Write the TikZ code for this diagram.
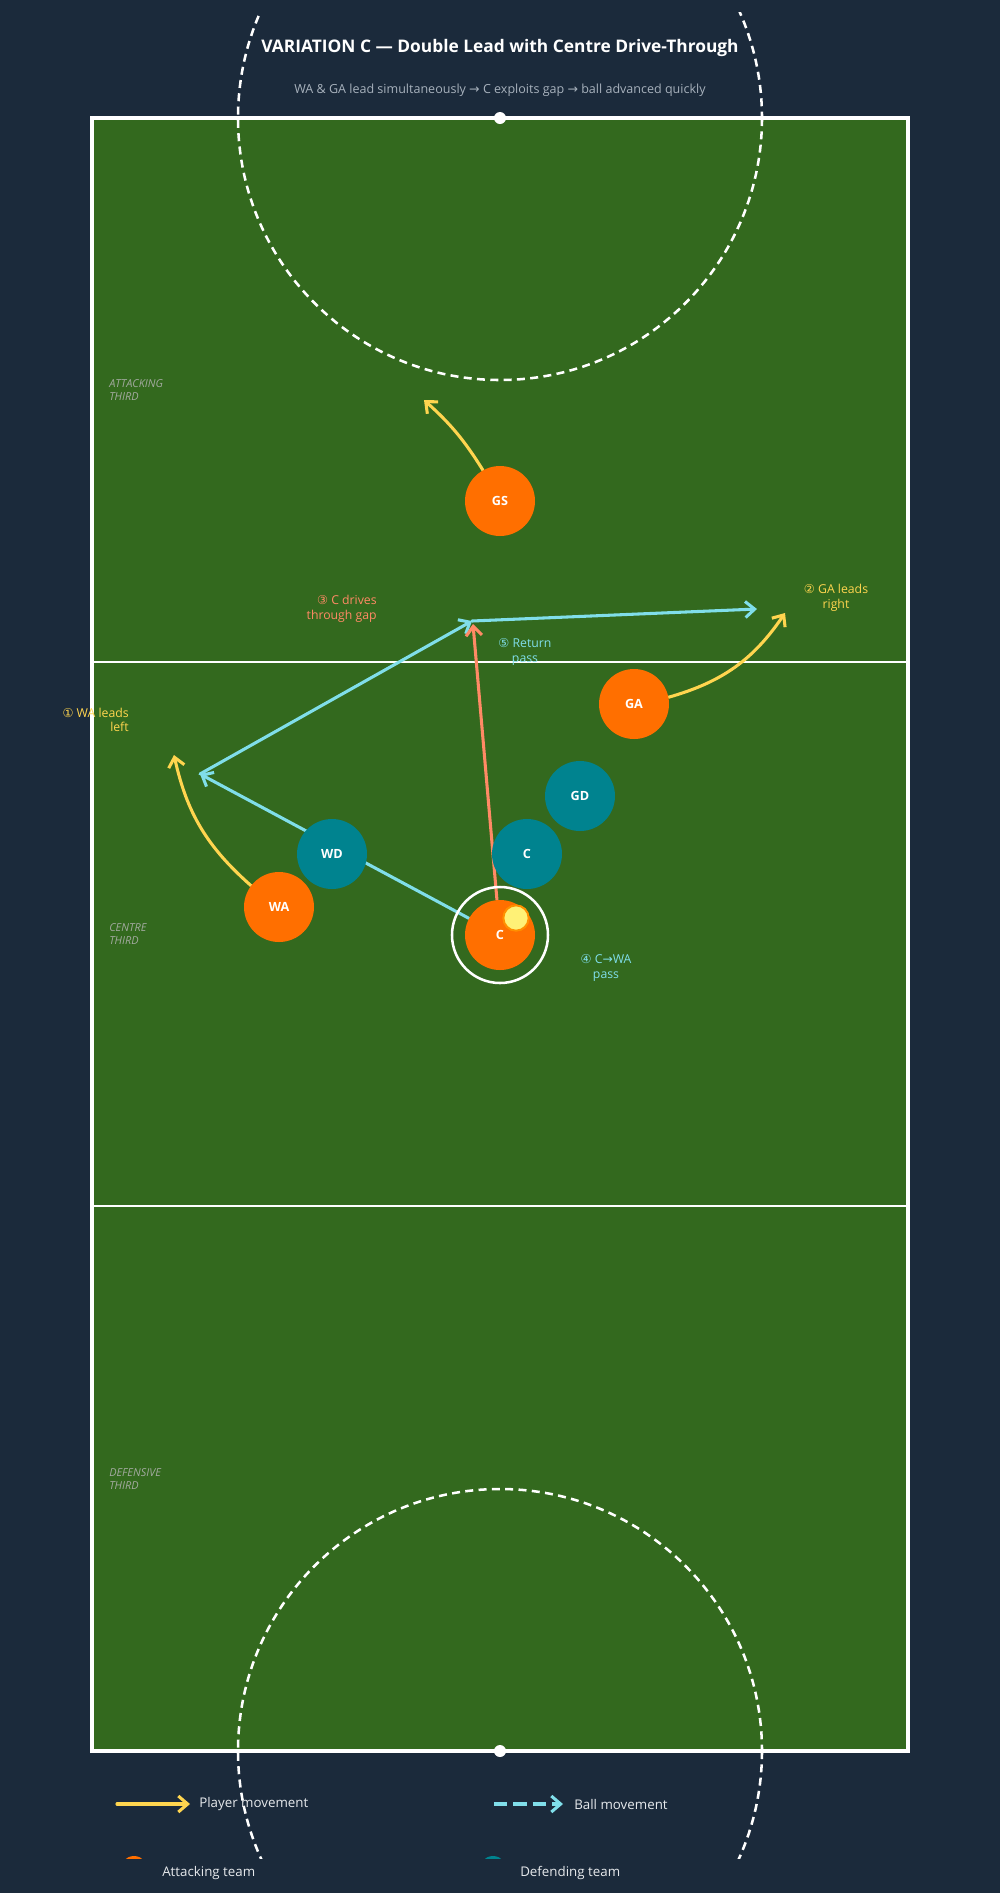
\documentclass[tikz,border=0pt]{standalone}
\usepackage{fontspec}
\setmainfont{Open Sans}
\newfontfamily\symf{DejaVu Sans}
\usetikzlibrary{arrows.meta,calc,positioning}
\usepackage{xcolor}
\definecolor{bgnavy}{HTML}{1B2A3B}
\definecolor{courtgreen}{HTML}{33691E}
\definecolor{attorange}{HTML}{FF6F00}
\definecolor{defteal}{HTML}{00838F}
\definecolor{moveyel}{HTML}{FFD54F}
\definecolor{ballcyan}{HTML}{80DEEA}
\definecolor{drivesal}{HTML}{FF8A65}
\definecolor{ballyel}{HTML}{FFF176}
\definecolor{ballring}{HTML}{FF8F00}
\definecolor{zonegray}{HTML}{A3AAA0}
\definecolor{subgray}{HTML}{A7B1BC}
\definecolor{legwhite}{HTML}{E6E9EC}
\pgfdeclarelayer{top}
\pgfsetlayers{main,top}
\newcommand{\plsize}{52.5pt}
\newcommand{\cn}[1]{{\symf #1}}
\tikzset{
    attsty/.style={circle,fill=attorange,minimum size=\plsize,inner sep=0pt,text=white,font=\bfseries\fontsize{9.5}{11}\selectfont},
    defsty/.style={circle,fill=defteal,minimum size=\plsize,inner sep=0pt,text=white,font=\bfseries\fontsize{9.5}{11}\selectfont},
    ringsty/.style={circle,draw=white,line width=1.9pt,minimum size=72pt,inner sep=0pt},
    ballsty/.style={circle,fill=ballyel,draw=ballring,line width=1.5pt,minimum size=19pt,inner sep=0pt},
    movesty/.style={draw=moveyel,line width=2.3pt,line cap=round,-{Straight Barb[length=7pt,width=12pt]}},
    passsty/.style={draw=ballcyan,line width=2.3pt,line cap=round,-{Straight Barb[length=7pt,width=12pt]}},
    drivesty/.style={draw=drivesal,line width=2.3pt,line cap=round,-{Straight Barb[length=7pt,width=12pt]}},
    circsty/.style={draw=white,line width=1.9pt,dash pattern=on 6pt off 4pt},
    zonesty/.style={font=\itshape\fontsize{8.2}{10}\selectfont,text=zonegray,align=left,anchor=west,inner sep=0pt},
    notesty/.style={font=\fontsize{9.2}{10.9}\selectfont,inner sep=0pt},
    legsty/.style={font=\fontsize{10}{12}\selectfont,text=legwhite,anchor=west,inner sep=0pt},
}

\begin{document}
\begin{tikzpicture}[x=0.75pt,y=-0.75pt]
% page and court
\fill[bgnavy] (0,0) rectangle (1000,1893);
\useasboundingbox (0,0) rectangle (1000,1893);
\fill[courtgreen] (92,118) rectangle (908,1751);
\draw[white,line width=2.2pt] (92,662) -- (908,662);
\draw[white,line width=2.2pt] (92,1206) -- (908,1206);
\draw[white,line width=3pt] (92,118) rectangle (908,1751);
\begin{scope}
\clip (0,12) rectangle (1000,1858);
\draw[circsty] (500,118) circle[radius=262];
\draw[circsty] (500,1751) circle[radius=262];
\fill[attorange] (134,1870) circle[radius=14];
\fill[defteal] (493,1870) circle[radius=14];
\end{scope}
\fill[white] (500,118) circle[radius=6];
\fill[white] (500,1751) circle[radius=6];

% titles
\node[font=\bfseries\fontsize{13}{15}\selectfont,text=white] (title) at (500,48) {VARIATION C — Double Lead with Centre Drive-Through};
\node[font=\fontsize{9.4}{11}\selectfont,text=subgray] (subtitle) at (500,90) {WA \& GA lead simultaneously \cn{→} C exploits gap \cn{→} ball advanced quickly};

% thirds
\node[zonesty] (attz) at (109,390) {ATTACKING\\THIRD};
\node[zonesty] (cenz) at (109,934) {CENTRE\\THIRD};
\node[zonesty] (defz) at (109,1479) {DEFENSIVE\\THIRD};

% players
\begin{pgfonlayer}{top}
\node[attsty] (GS) at (500,501) {GS};
\node[attsty] (GA) at (634,704) {GA};
\node[attsty] (WA) at (279,907) {WA};
\node[defsty] (WD) at (332,854) {WD};
\node[defsty] (Cdef) at (527,854) {C};
\node[defsty] (GD) at (580,796) {GD};
\node[ringsty] (ring) at (500,935) {};
\node[attsty] (Catt) at (500,935) {C};
\node[ballsty] (ball) at (516,918) {};
\end{pgfonlayer}

% movement
\coordinate (gsrun) at (424,400);
\coordinate (garun) at (785,613);
\coordinate (warun) at (174,755);
\coordinate (wapos) at (200,774);
\coordinate (cgap) at (472,621);
\coordinate (gapos) at (757,609);
\coordinate (cdrive) at (473,624);
\draw[movesty] (GS) to[bend right=8] (gsrun);
\draw[movesty] (GA) to[bend right=20] (garun);
\draw[movesty] (WA) to[bend left=18] (warun);
\draw[passsty] (Catt) -- (wapos);
\draw[passsty] (wapos) -- (cgap);
\draw[passsty] (cgap) -- (gapos);
\draw[drivesty] (Catt) -- (cdrive);

% notes
\node[notesty,text=moveyel,align=right,anchor=east] (n1) at (129,720) {\cn{①} WA leads\\left};
\node[notesty,text=moveyel,align=center] (n2) at (836,598) {\cn{②} GA leads\\right};
\node[notesty,text=drivesal,align=right,anchor=east] (n3) at (377,609) {\cn{③} C drives\\through gap};
\node[notesty,text=ballcyan,align=center] (n4) at (606,968) {\cn{④} C\cn{→}WA\\pass};
\node[notesty,text=ballcyan,align=center] (n5) at (525,652) {\cn{⑤} Return\\pass};

% legend
\coordinate (lgp1) at (117,1804);
\coordinate (lgp2) at (190,1804);
\coordinate (lgb1) at (494,1804);
\coordinate (lgb2) at (563,1804);
\draw[movesty] (lgp1) -- (lgp2);
\draw[passsty,line cap=butt,dash pattern=on 10pt off 4.5pt] (lgb1) -- (lgb2);
\node[legsty] (lgpt) at (199,1804) {Player movement};
\node[legsty] (lgbt) at (574,1804) {Ball movement};
\node[legsty] (lgat) at (162,1873) {Attacking team};
\node[legsty] (lgdt) at (520,1873) {Defending team};
\end{tikzpicture}
\end{document}
